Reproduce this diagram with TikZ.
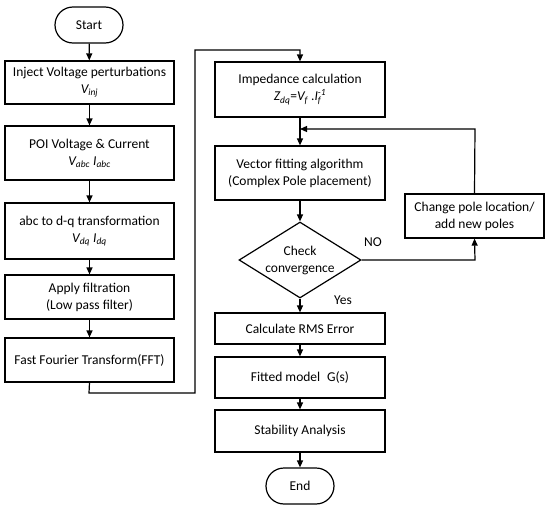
\documentclass[tikz,border=0pt]{standalone}
\usepackage{fontspec}
\setmainfont{Carlito}
\usetikzlibrary{arrows.meta,shapes.geometric}
\begin{document}
\begin{tikzpicture}[x=1pt,y=-1pt,
  every node/.style={font=\fontsize{13.5}{17}\selectfont, align=center, inner sep=0pt},
  lbox/.style={draw, line width=1.2pt, minimum width=169pt},
  rbox/.style={draw, line width=1.2pt, minimum width=170pt},
  term/.style={draw, line width=1.2pt, rounded corners=18pt, minimum width=68pt, minimum height=36pt},
  arr/.style={-{Triangle[length=7pt,width=6pt]}, line width=1.2pt},
  ln/.style={line width=1.2pt}]
\useasboundingbox (0,0) rectangle (550,509);

\node[term] (start) at (89,25) {Start};
\node[lbox, minimum height=43pt] (b1) at (89.5,82.5) {Inject Voltage perturbations\\ \textit{V\textsubscript{inj}}};
\node[lbox, minimum height=54pt] (b2) at (89.5,153) {POI Voltage \& Current\\ \textit{V\textsubscript{abc} I\textsubscript{abc}}};
\node[lbox, minimum height=56pt] (b3) at (89.5,231) {abc to d-q transformation\\ \textit{V\textsubscript{dq} I\textsubscript{dq}}};
\node[lbox, minimum height=44pt] (b4) at (89.5,297) {Apply filtration\\ (Low pass filter)};
\node[lbox, minimum height=44pt] (b5) at (89.5,360) {Fast Fourier Transform(FFT)};

\node[rbox, minimum height=55pt] (imp) at (300,89.5) {Impedance calculation\\ \textit{Z\textsubscript{dq}}=\textit{V\textsubscript{f}} .\textit{I\rlap{\textsubscript{f}}\textsuperscript{-1}}};
\node[rbox, minimum height=54pt] (vf) at (300,173) {Vector fitting algorithm\\ (Complex Pole placement)};
\node[draw, line width=1.2pt, diamond, aspect=1.6, minimum width=122pt, minimum height=76pt] (chk) at (300,260) {Check\\ convergence};
\node[rbox, minimum height=31pt] (rms) at (300,328.5) {Calculate RMS Error};
\node[rbox, minimum height=41pt] (fit) at (300,377.5) {Fitted model\enspace G(s)};
\node[rbox, minimum height=42pt] (stab) at (300,431) {Stability Analysis};
\node[term] (end) at (300,486) {End};
\node[draw, line width=1.2pt, minimum width=139pt, minimum height=44pt] (cp) at (474.5,216) {Change pole location/\\ add new poles};

\coordinate (l1) at (89,393);
\coordinate (l2) at (195,393);
\coordinate (l3) at (195,50);
\coordinate (l4) at (300,50);
\coordinate (f1) at (475,129);
\coordinate (f2) at (300,129);
\coordinate (n1) at (475,260);

\draw[arr] (start) -- (b1);
\draw[arr] (b1) -- (b2);
\draw[arr] (b2) -- (b3);
\draw[arr] (b3) -- (b4);
\draw[arr] (b4) -- (b5);
\draw[arr] (b5.south) -- (l1) -- (l2) -- (l3) -- (l4) -- (imp.north);
\draw[arr] (imp) -- (vf);
\draw[arr] (cp.north) -- (f1) -- (f2);
\draw[arr] (vf) -- (chk);
\draw[arr] (chk) -- (rms);
\draw[arr] (rms) -- (fit);
\draw[arr] (fit) -- (stab);
\draw[arr] (stab) -- (end);
\draw[arr] (chk.east) -- (n1) -- (cp.south);

\node (no) at (373,242) {NO};
\node (yes) at (343,300) {Yes};
\end{tikzpicture}
\end{document}
